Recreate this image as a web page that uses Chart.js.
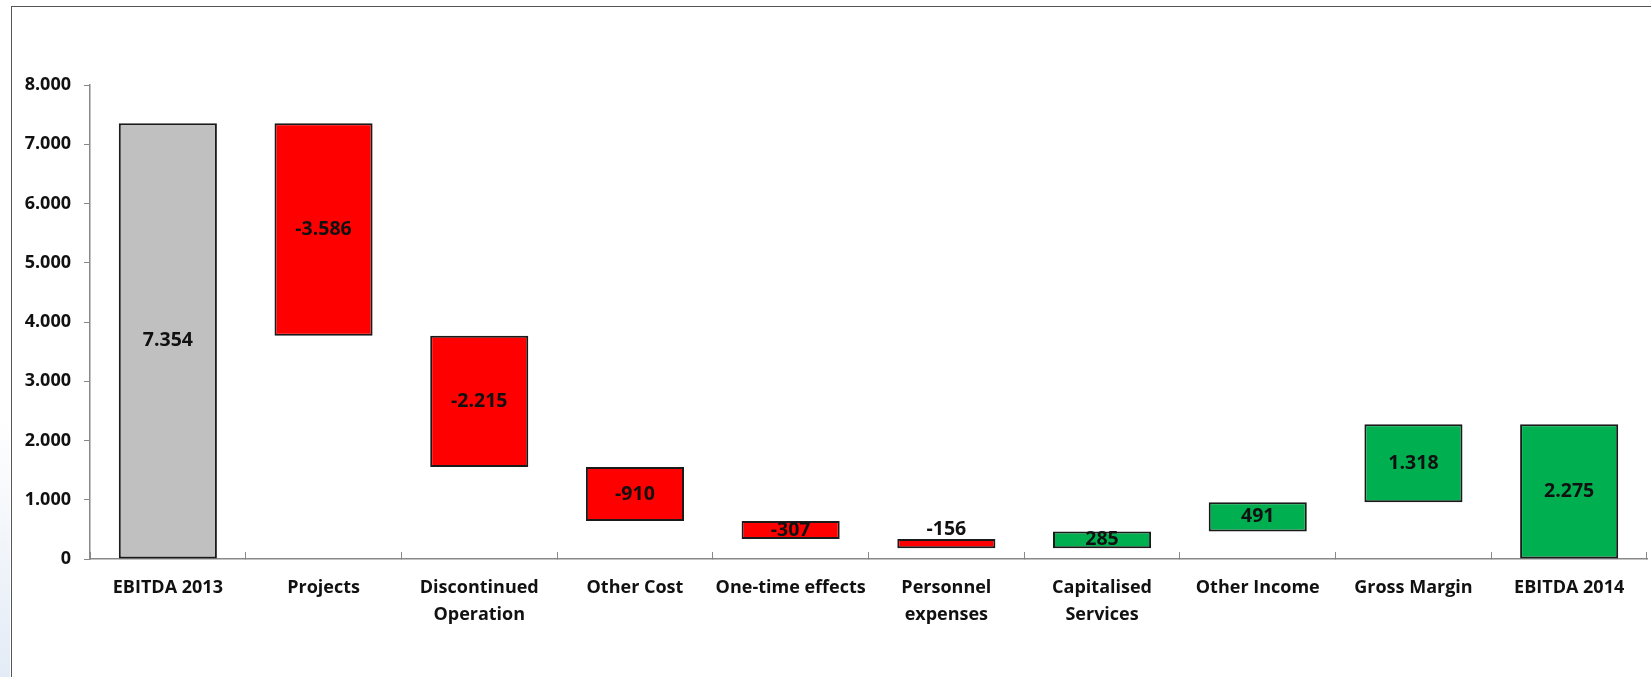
<!DOCTYPE html>
<html>
<head>
<meta charset="utf-8">
<script src="https://cdn.jsdelivr.net/npm/chart.js@4/dist/chart.umd.min.js"></script>
<style>
  html, body { margin: 0; padding: 0; background: #fff; overflow: hidden; }
  #wrap { position: relative; width: 1651px; height: 677px; }
  #frame { position: absolute; left: 11px; top: 6px; width: 1660px; height: 700px;
           border-left: 1.5px solid #555; border-top: 1.5px solid #555; }
  #glow { position: absolute; left: 0; top: 420px; width: 10px; height: 257px;
          background: linear-gradient(to bottom, rgba(225,234,246,0), #e3ebf6); }
  canvas { position: absolute; left: 0; top: 0; }
</style>
</head>
<body>
<div id="wrap">
  <div id="glow"></div>
  <div id="frame"></div>
  <canvas id="waterfall" width="1651" height="677"></canvas>
</div>
<script>
const categories = ['EBITDA 2013', 'Projects', ['Discontinued', 'Operation'], 'Other Cost',
    'One-time effects', ['Personnel', 'expenses'], ['Capitalised', 'Services'],
    'Other Income', 'Gross Margin', 'EBITDA 2014'];
const changes = [7354, -3586, -2215, -910, -307, -156, 285, 491, 1318, 2275];
const kinds = ['total', 'delta', 'delta', 'delta', 'delta', 'delta', 'delta', 'delta', 'delta', 'total'];
const yTicks = [0, 1000, 2000, 3000, 4000, 5000, 6000, 7000, 8000];

function fmt(v) {
    const s = String(Math.abs(v)).replace(/\B(?=(\d{3})+(?!\d))/g, '.');
    return (v < 0 ? '-' : '') + s;
}

// floating bars built from the running total
let running = 0;
const ranges = [];
const colors = [];
changes.forEach((v, i) => {
    if (kinds[i] === 'total') {
        ranges.push([0, v]);
        running = v;
        colors.push(i === 0 ? '#c0c0c0' : '#00b050');
    } else {
        ranges.push([running, running + v]);
        running += v;
        colors.push(v < 0 ? '#ff0000' : '#00b050');
    }
});

const FONT = "'Open Sans', sans-serif";

const barLabels = {
    id: 'barLabels',
    afterDatasetsDraw(chart) {
        const ctx = chart.ctx;
        const meta = chart.getDatasetMeta(0);
        ctx.save();
        ctx.font = 'bold 19.5px ' + FONT;
        ctx.fillStyle = '#111';
        ctx.textAlign = 'center';
        ctx.textBaseline = 'middle';
        meta.data.forEach((bar, i) => {
            const top = Math.min(bar.y, bar.base);
            const h = Math.abs(bar.base - bar.y);
            const y = h < 12 ? top - 10 : top + h / 2;
            ctx.fillText(fmt(changes[i]), bar.x, y);
        });
        ctx.restore();
    }
};

const ctx = document.getElementById('waterfall').getContext('2d');
const chart = new Chart(ctx, {
    type: 'bar',
    data: {
        labels: categories,
        datasets: [{
            data: ranges,
            backgroundColor: colors,
            borderColor: '#1a1a1a',
            borderWidth: 2,
            borderSkipped: false,
            categoryPercentage: 1,
            barPercentage: 0.63
        }]
    },
    options: {
        responsive: false,
        animation: false,
        devicePixelRatio: 1,
        layout: { padding: { top: 85, right: 4, left: 0, bottom: 0 } },
        plugins: { legend: { display: false }, tooltip: { enabled: false } },
        scales: {
            x: {
                offset: true,
                grid: { display: true, drawOnChartArea: false, offset: true,
                        tickLength: -7, color: '#888', lineWidth: 1 },
                border: { display: true, color: '#888', width: 1.5 },
                ticks: { color: '#111', padding: 22, maxRotation: 0, autoSkip: false,
                         font: { family: FONT, size: 18, weight: 'bold', lineHeight: 1.5 } },
                afterFit(scale) { scale.height = 118; }
            },
            y: {
                min: 0,
                max: 8000,
                afterBuildTicks(scale) { scale.ticks = yTicks.map(v => ({ value: v })); },
                grid: { display: true, drawOnChartArea: false, tickLength: 6, color: '#888' },
                border: { display: true, color: '#888', width: 1.5 },
                ticks: { color: '#111', padding: 13, callback: v => fmt(v),
                         font: { family: FONT, size: 18, weight: 'bold' } },
                afterFit(scale) { scale.width = 90; }
            }
        }
    },
    plugins: [barLabels]
});
</script>
</body>
</html>
